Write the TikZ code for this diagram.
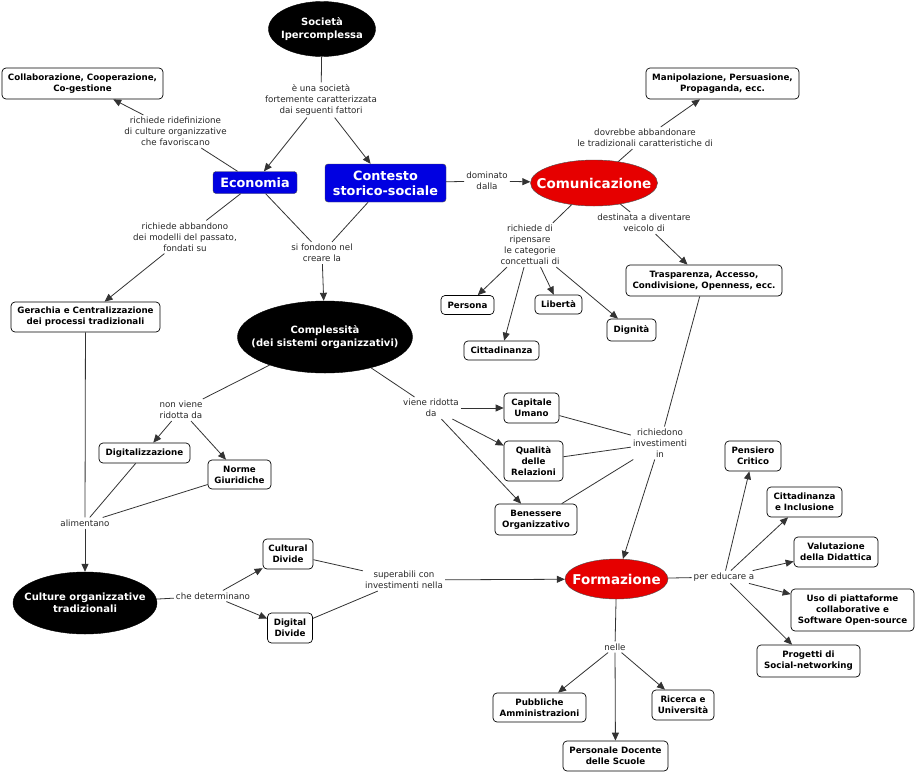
\documentclass[tikz,border=0pt]{standalone}
\usepackage{fontspec}
\setmainfont{DejaVu Sans}
\usetikzlibrary{shapes.geometric,arrows.meta}
\definecolor{cblue}{RGB}{0,0,225}
\definecolor{cred}{RGB}{230,0,0}
\definecolor{ltext}{RGB}{40,40,40}
\begin{document}
\begin{tikzpicture}[x=1pt,y=-1pt,
 concept/.style={draw, rounded corners=4pt, fill=white, line width=0.7pt, font=\fontsize{8.7}{11}\selectfont\bfseries, align=center, inner sep=1pt},
 blk/.style={ellipse, fill=black, draw=black, text=white, font=\fontsize{10}{12.5}\selectfont\bfseries, align=center, inner xsep=-30pt, inner ysep=0pt},
 bluebox/.style={rounded corners=3pt, fill=cblue, draw=black!70, text=white, font=\fontsize{12.8}{15}\selectfont\bfseries, align=center, inner sep=0pt},
 redell/.style={ellipse, fill=cred, draw=black!70, text=white, font=\fontsize{13.5}{15}\selectfont\bfseries, inner xsep=-30pt, inner ysep=0pt},
 lab/.style={font=\fontsize{8.7}{11}\selectfont, text=ltext, align=center, inner sep=2pt},
 ln/.style={draw=black!80, line width=0.8pt},
 arr/.style={ln, -{Triangle[length=8pt,width=7pt]}}
]
\fill[white] (0,0) rectangle (916,772);
\useasboundingbox (0,0) rectangle (916,772);

% concepts
\node[blk, minimum width=107pt, minimum height=55pt] (soc) at (322,29) {Società\\Ipercomplessa};
\node[concept, minimum width=161pt, minimum height=31pt] (collab) at (82.5,83.5) {Collaborazione, Cooperazione,\\Co-gestione};
\node[concept, minimum width=153pt, minimum height=31pt] (manip) at (722.5,83.5) {Manipolazione, Persuasione,\\Propaganda, ecc.};
\node[bluebox, minimum width=84pt, minimum height=22pt] (eco) at (255,182.5) {Economia};
\node[bluebox, minimum width=121pt, minimum height=38pt] (cont) at (385.5,183) {Contesto\\storico-sociale};
\node[redell, minimum width=127pt, minimum height=46pt] (com) at (594,183) {Comunicazione};
\node[concept, minimum width=156pt, minimum height=31pt] (trasp) at (704,280.5) {Trasparenza, Accesso,\\Condivisione, Openness, ecc.};
\node[concept, minimum width=53pt, minimum height=19pt] (pers) at (467.5,305) {Persona};
\node[concept, minimum width=47pt, minimum height=19pt] (lib) at (558.5,304.5) {Libertà};
\node[concept, minimum width=49pt, minimum height=22pt] (dig) at (631.5,330) {Dignità};
\node[concept, minimum width=75pt, minimum height=19pt] (citt) at (501.5,350.5) {Cittadinanza};
\node[concept, minimum width=149pt, minimum height=30pt] (gera) at (85.5,317) {Gerachia e Centralizzazione\\dei processi tradizionali};
\node[blk, minimum width=175pt, minimum height=72pt] (compl) at (325,337) {Complessità\\(dei sistemi organizzativi)};
\node[concept, minimum width=91pt, minimum height=20pt] (digi) at (144.5,453) {Digitalizzazione};
\node[concept, minimum width=63pt, minimum height=29pt] (norme) at (239.5,474.5) {Norme\\Giuridiche};
\node[concept, minimum width=55pt, minimum height=30pt] (capit) at (531.5,408) {Capitale\\Umano};
\node[concept, minimum width=59pt, minimum height=40pt] (qual) at (533.5,461) {Qualità\\delle\\Relazioni};
\node[concept, minimum width=82pt, minimum height=31pt] (ben) at (536,519.5) {Benessere\\Organizzativo};
\node[concept, minimum width=56pt, minimum height=30pt] (pens) at (753,456) {Pensiero\\Critico};
\node[concept, minimum width=75pt, minimum height=30pt] (cittinc) at (804.5,502) {Cittadinanza\\e Inclusione};
\node[concept, minimum width=84pt, minimum height=30pt] (valut) at (836,552) {Valutazione\\della Didattica};
\node[concept, minimum width=123pt, minimum height=42pt] (uso) at (852.5,610) {Uso di piattaforme\\collaborative e\\Software Open-source};
\node[concept, minimum width=103pt, minimum height=32pt] (prog) at (808.5,661) {Progetti di\\Social-networking};
\node[blk, minimum width=144pt, minimum height=62pt] (cult) at (85,603) {Culture organizzative\\tradizionali};
\node[concept, minimum width=50pt, minimum height=30pt] (cdiv) at (288,554) {Cultural\\Divide};
\node[concept, minimum width=45pt, minimum height=30pt] (ddiv) at (290,628) {Digital\\Divide};
\node[redell, minimum width=103pt, minimum height=40pt] (form) at (616.5,579) {Formazione};
\node[concept, minimum width=93pt, minimum height=29pt] (pubb) at (539.5,707.5) {Pubbliche\\Amministrazioni};
\node[concept, minimum width=62pt, minimum height=30pt] (ric) at (683,705) {Ricerca e\\Università};
\node[concept, minimum width=105pt, minimum height=30pt] (perso) at (615.5,756) {Personale Docente\\delle Scuole};

% link labels
\node[lab] (l1) at (321,100) {è una società\\fortemente caratterizzata\\dai seguenti fattori};
\node[lab] (l2) at (175.5,131.5) {richiede ridefinizione\\di culture organizzative\\che favoriscano};
\node[lab] (l3) at (645,138) {dovrebbe abbandonare\\le tradizionali caratteristiche di};
\node[lab] (l4) at (487,181) {dominato\\dalla};
\node[lab] (l5) at (185,237) {richiede abbandono\\dei modelli del passato,\\fondati su};
\node[lab] (l6) at (322,253) {si fondono nel\\creare la};
\node[lab] (l7) at (530,245) {richiede di\\ripensare\\le categorie\\concettuali di};
\node[lab] (l8) at (644,223) {destinata a diventare\\veicolo di};
\node[lab] (l9) at (181,410) {non viene\\ridotta da};
\node[lab] (l10) at (431,408) {viene ridotta\\da};
\node[lab] (l11) at (660,443) {richiedono\\investimenti\\in};
\node[lab] (l12) at (85,523) {alimentano};
\node[lab] (l13) at (213,596) {che determinano};
\node[lab] (l14) at (404,580) {superabili con\\investimenti nella};
\node[lab] (l15) at (724,577) {per educare a};
\node[lab] (l16) at (615,647) {nelle};

% connectors
\draw[ln] (soc) -- (l1);
\draw[arr] (l1) -- (eco);
\draw[arr] (l1) -- (cont);
\draw[ln] (eco) -- (l2);
\draw[arr] (l2) -- (collab);
\draw[ln] (eco) -- (l5);
\draw[arr] (l5) -- (gera);
\draw[ln] (eco) -- (l6);
\draw[ln] (cont) -- (l6);
\draw[arr] (l6) -- (compl);
\draw[ln] (cont) -- (l4);
\draw[arr] (l4) -- (com);
\draw[ln] (com) -- (l3);
\draw[arr] (l3) -- (manip);
\draw[ln] (com) -- (l7);
\draw[arr] (l7) -- (pers);
\draw[arr] (l7) -- (lib);
\draw[arr] (l7) -- (dig);
\draw[arr] (l7) -- (citt);
\draw[ln] (com) -- (l8);
\draw[arr] (l8) -- (trasp);
\draw[ln] (trasp) -- (l11);
\draw[ln] (capit) -- (l11);
\draw[ln] (qual) -- (l11);
\draw[ln] (ben) -- (l11);
\draw[arr] (l11) -- (form);
\draw[ln] (compl) -- (l9);
\draw[arr] (l9) -- (digi);
\draw[arr] (l9) -- (norme);
\draw[ln] (compl) -- (l10);
\draw[arr] (l10) -- (capit);
\draw[arr] (l10) -- (qual);
\draw[arr] (l10) -- (ben);
\draw[ln] (gera) -- (l12);
\draw[ln] (digi) -- (l12);
\draw[ln] (norme) -- (l12);
\draw[arr] (l12) -- (cult);
\draw[ln] (cult) -- (l13);
\draw[arr] (l13) -- (cdiv);
\draw[arr] (l13) -- (ddiv);
\draw[ln] (cdiv) -- (l14);
\draw[ln] (ddiv) -- (l14);
\draw[arr] (l14) -- (form);
\draw[ln] (form) -- (l15);
\draw[arr] (l15) -- (pens);
\draw[arr] (l15) -- (cittinc);
\draw[arr] (l15) -- (valut);
\draw[arr] (l15) -- (uso);
\draw[arr] (l15) -- (prog);
\draw[ln] (form) -- (l16);
\draw[arr] (l16) -- (pubb);
\draw[arr] (l16) -- (ric);
\draw[arr] (l16) -- (perso);
\end{tikzpicture}
\end{document}
